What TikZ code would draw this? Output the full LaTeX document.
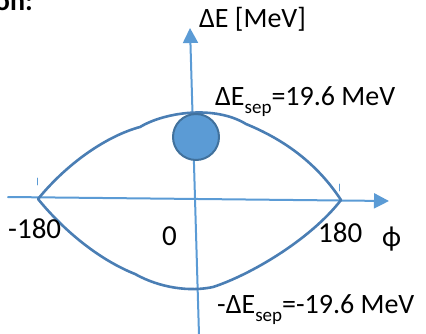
\documentclass[tikz,border=0pt]{standalone}
\usepackage{fontspec}
\setmainfont{Carlito}
\usetikzlibrary{arrows.meta}

\definecolor{axisblue}{HTML}{5B9BD5}
\definecolor{curveblue}{HTML}{4A7EB4}
\definecolor{bunchedge}{HTML}{41719C}

\newcommand{\sepsub}{\raisebox{-.3em}{\fontsize{19}{19}\selectfont sep}}

\begin{document}
\begin{tikzpicture}[x=1pt,y=-1pt,line cap=round,line join=round,
    axis/.style={color=axisblue,line width=2pt,
      -{Triangle[length=15pt,width=15pt]}},
    tick/.style={color=axisblue,line width=.8pt},
    sepx/.style={color=curveblue,line width=2.6pt},
    bunch/.style={circle,fill=axisblue,draw=bunchedge,line width=2pt,
      minimum size=46pt,inner sep=0pt},
    lbl/.style={anchor=base west,inner sep=0pt,font=\fontsize{28}{32}\selectfont},
    big/.style={anchor=base west,inner sep=0pt,font=\fontsize{29}{34}\selectfont}]
    \clip (0,0) rectangle (426,333);

    % Cut title from the slide.
    \node[anchor=base east,inner sep=0pt,font=\fontsize{28}{32}\selectfont\bfseries]
      (title) at (33,10) {on:};

    % The phase and energy axes.
    \coordinate (phil) at (8,197);
    \coordinate (phir) at (389,201);
    \coordinate (de0) at (199,335);
    \coordinate (de1) at (190,28);
    \draw[axis] (phil) -- (phir);
    \draw[axis] (de0) -- (de1);
    \node[lbl] (delab) at (199,27) {ΔE [MeV]};

    % Small marks above the two cusps.
    \draw[tick] (37,178) -- (37,185);
    \draw[tick] (339,184) -- (339,191);

    % The separatrix between the two unstable points.
    \coordinate (lcusp) at (38,199);
    \coordinate (rcusp) at (341,200);
    \draw[sepx] (lcusp)
      .. controls (70,160) and (110,135) .. (140,127)
      .. controls (165,112) and (215,105) .. (246,124)
      .. controls (290,142) and (320,168) .. (rcusp);
    \draw[sepx] (lcusp)
      .. controls (65,232) and (100,260) .. (135,274)
      .. controls (160,288) and (190,292) .. (213,287)
      .. controls (250,275) and (310,240) .. (rcusp);

    % The bunch near the synchronous phase.
    \node[bunch] (bunch) at (196,137) {};

    % Labels.
    \node[lbl] (septop) at (215,105) {ΔE\sepsub=19.6 MeV};
    \node[lbl] (sepbot) at (217,313) {-ΔE\sepsub=-19.6 MeV};
    \node[big] (m180) at (8,238) {-180};
    \node[big] (zero) at (162,245) {0};
    \node[big] (p180) at (318,242) {180};
    \node[big] (philab) at (382,246) {ϕ};
  \end{tikzpicture}
\end{document}
